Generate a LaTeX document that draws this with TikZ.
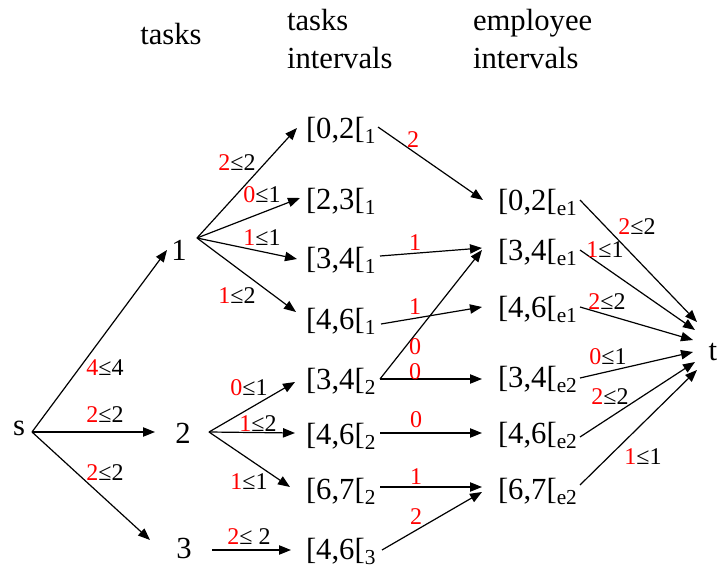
\documentclass[tikz,border=0pt]{standalone}
\usepackage{fontspec}
\setmainfont{Liberation Serif}
\usetikzlibrary{arrows.meta}
\newcommand{\sbs}[1]{\raisebox{-4pt}{\fontsize{16}{16}\selectfont #1}}
\newcommand{\lbl}[2]{\textcolor{red}{#1}≤#2}
\begin{document}
\begin{tikzpicture}[x=0.75pt,y=-0.75pt,
  every node/.style={inner sep=0pt,outer sep=0pt},
  main/.style={font=\fontsize{23}{27}\selectfont},
  lab/.style={font=\fontsize{18}{20}\selectfont},
  redlab/.style={font=\fontsize{18}{20}\selectfont,text=red},
  conn/.style={-{Triangle[length=9pt,width=7pt]}, line width=0.9pt}]
\useasboundingbox (0,0) rectangle (719,571);
% headers
\node[main,anchor=base] (h1) at (171,45) {tasks};
\node[main,anchor=base west] (h2a) at (287,31) {tasks};
\node[main,anchor=base west] (h2b) at (287,68) {intervals};
\node[main,anchor=base west] (h3a) at (473,31) {employee};
\node[main,anchor=base west] (h3b) at (473,68) {intervals};
% main nodes
\node[main,anchor=base] (s) at (19,435) {s};
\node[main,anchor=base] (n1) at (179,260) {1};
\node[main,anchor=base] (n2) at (183,443) {2};
\node[main,anchor=base] (n3) at (184,558) {3};
\node[main,anchor=base] (t) at (713,360) {t};
% task intervals
\node[main,anchor=base west] (a1) at (306,138) {[0,2[\sbs{1}};
\node[main,anchor=base west] (a2) at (306,209) {[2,3[\sbs{1}};
\node[main,anchor=base west] (a3) at (306,268) {[3,4[\sbs{1}};
\node[main,anchor=base west] (a4) at (306,329) {[4,6[\sbs{1}};
\node[main,anchor=base west] (b1) at (306,389) {[3,4[\sbs{2}};
\node[main,anchor=base west] (b2) at (306,444) {[4,6[\sbs{2}};
\node[main,anchor=base west] (b3) at (306,499) {[6,7[\sbs{2}};
\node[main,anchor=base west] (c1) at (306,559) {[4,6[\sbs{3}};
% employee intervals
\node[main,anchor=base west] (e1) at (498,210) {[0,2[\sbs{e1}};
\node[main,anchor=base west] (e2) at (498,260) {[3,4[\sbs{e1}};
\node[main,anchor=base west] (e3) at (498,317) {[4,6[\sbs{e1}};
\node[main,anchor=base west] (f1) at (498,387) {[3,4[\sbs{e2}};
\node[main,anchor=base west] (f2) at (498,443) {[4,6[\sbs{e2}};
\node[main,anchor=base west] (f3) at (498,499) {[6,7[\sbs{e2}};
% s edges
\draw[conn] ([shift={(13,-3)}]s.base) -- ([shift={(-12,-10)}]n1.base);
\draw[conn] ([shift={(13,-3)}]s.base) -- ([shift={(-28,-11)}]n2.base);
\draw[conn] ([shift={(13,-3)}]s.base) -- ([shift={(-34,-18)}]n3.base);
% task 1 edges
\draw[conn] ([shift={(18,-22)}]n1.base) -- ([shift={(-9,-10)}]a1.base west);
\draw[conn] ([shift={(18,-22)}]n1.base) -- ([shift={(-6,-11)}]a2.base west);
\draw[conn] ([shift={(18,-22)}]n1.base) -- ([shift={(-9,-9)}]a3.base west);
\draw[conn] ([shift={(18,-22)}]n1.base) -- ([shift={(-10,-17)}]a4.base west);
% task 2 edges
\draw[conn] ([shift={(26,-11)}]n2.base) -- ([shift={(-11,-7)}]b1.base west);
\draw[conn] ([shift={(26,-11)}]n2.base) -- ([shift={(-11,-11)}]b2.base west);
\draw[conn] ([shift={(26,-11)}]n2.base) -- ([shift={(-16,-12)}]b3.base west);
% task 3 edge
\draw[conn] ([shift={(28,-8)}]n3.base) -- ([shift={(-15,-9)}]c1.base west);
% interval edges
\draw[conn] ([shift={(72,-11)}]a1.base west) -- ([shift={(-15,-10)}]e1.base west);
\draw[conn] ([shift={(74,-12)}]a3.base west) -- ([shift={(-16,-12)}]e2.base west);
\draw[conn] ([shift={(75,-5)}]a4.base west) -- ([shift={(-16,-10)}]e3.base west);
\draw[conn] ([shift={(74,-10)}]b1.base west) -- ([shift={(-16,-10)}]e2.base west);
\draw[conn] ([shift={(74,-10)}]b1.base west) -- ([shift={(-16,-8)}]f1.base west);
\draw[conn] ([shift={(74,-11)}]b2.base west) -- ([shift={(-16,-10)}]f2.base west);
\draw[conn] ([shift={(74,-12)}]b3.base west) -- ([shift={(-16,-12)}]f3.base west);
\draw[conn] ([shift={(76,-9)}]c1.base west) -- ([shift={(-16,-7)}]f3.base west);
% to t
\draw[conn] ([shift={(82,-10)}]e1.base west) -- ([shift={(-16,-38)}]t.base);
\draw[conn] ([shift={(82,-10)}]e2.base west) -- ([shift={(-18,-30)}]t.base);
\draw[conn] ([shift={(82,-10)}]e3.base west) -- ([shift={(-20,-20)}]t.base);
\draw[conn] ([shift={(82,-9)}]f1.base west) -- ([shift={(-20,-8)}]t.base);
\draw[conn] ([shift={(82,-6)}]f2.base west) -- ([shift={(-18,2)}]t.base);
\draw[conn] ([shift={(82,-14)}]f3.base west) -- ([shift={(-16,10)}]t.base);
% labels s edges
\node[lab] (l1) at (105,368) {\lbl{4}{4}};
\node[lab] (l2) at (105,415) {\lbl{2}{2}};
\node[lab] (l3) at (105,473) {\lbl{2}{2}};
% labels task 1
\node[lab] (l4) at (237,163) {\lbl{2}{2}};
\node[lab] (l5) at (262,195) {\lbl{0}{1}};
\node[lab] (l6) at (262,238) {\lbl{1}{1}};
\node[lab] (l7) at (237,296) {\lbl{1}{2}};
% labels task 2
\node[lab] (l8) at (249,388) {\lbl{0}{1}};
\node[lab] (l9) at (258,424) {\lbl{1}{2}};
\node[lab] (l10) at (249,482) {\lbl{1}{1}};
% label task 3
\node[lab] (l11) at (249,537) {\textcolor{red}{2}≤ 2};
% interval labels
\node[redlab] (m1) at (413,140) {2};
\node[redlab] (m2) at (415,243) {1};
\node[redlab] (m3) at (415,307) {1};
\node[redlab] (m4) at (415,347) {0};
\node[redlab] (m5) at (415,372) {0};
\node[redlab] (m6) at (416,420) {0};
\node[redlab] (m7) at (416,477) {1};
\node[redlab] (m8) at (416,517) {2};
% labels to t
\node[lab] (r1) at (637,227) {\lbl{2}{2}};
\node[lab] (r2) at (605,250) {\lbl{1}{1}};
\node[lab] (r3) at (607,302) {\lbl{2}{2}};
\node[lab] (r4) at (608,357) {\lbl{0}{1}};
\node[lab] (r5) at (610,397) {\lbl{2}{2}};
\node[lab] (r6) at (643,457) {\lbl{1}{1}};
\end{tikzpicture}
\end{document}
